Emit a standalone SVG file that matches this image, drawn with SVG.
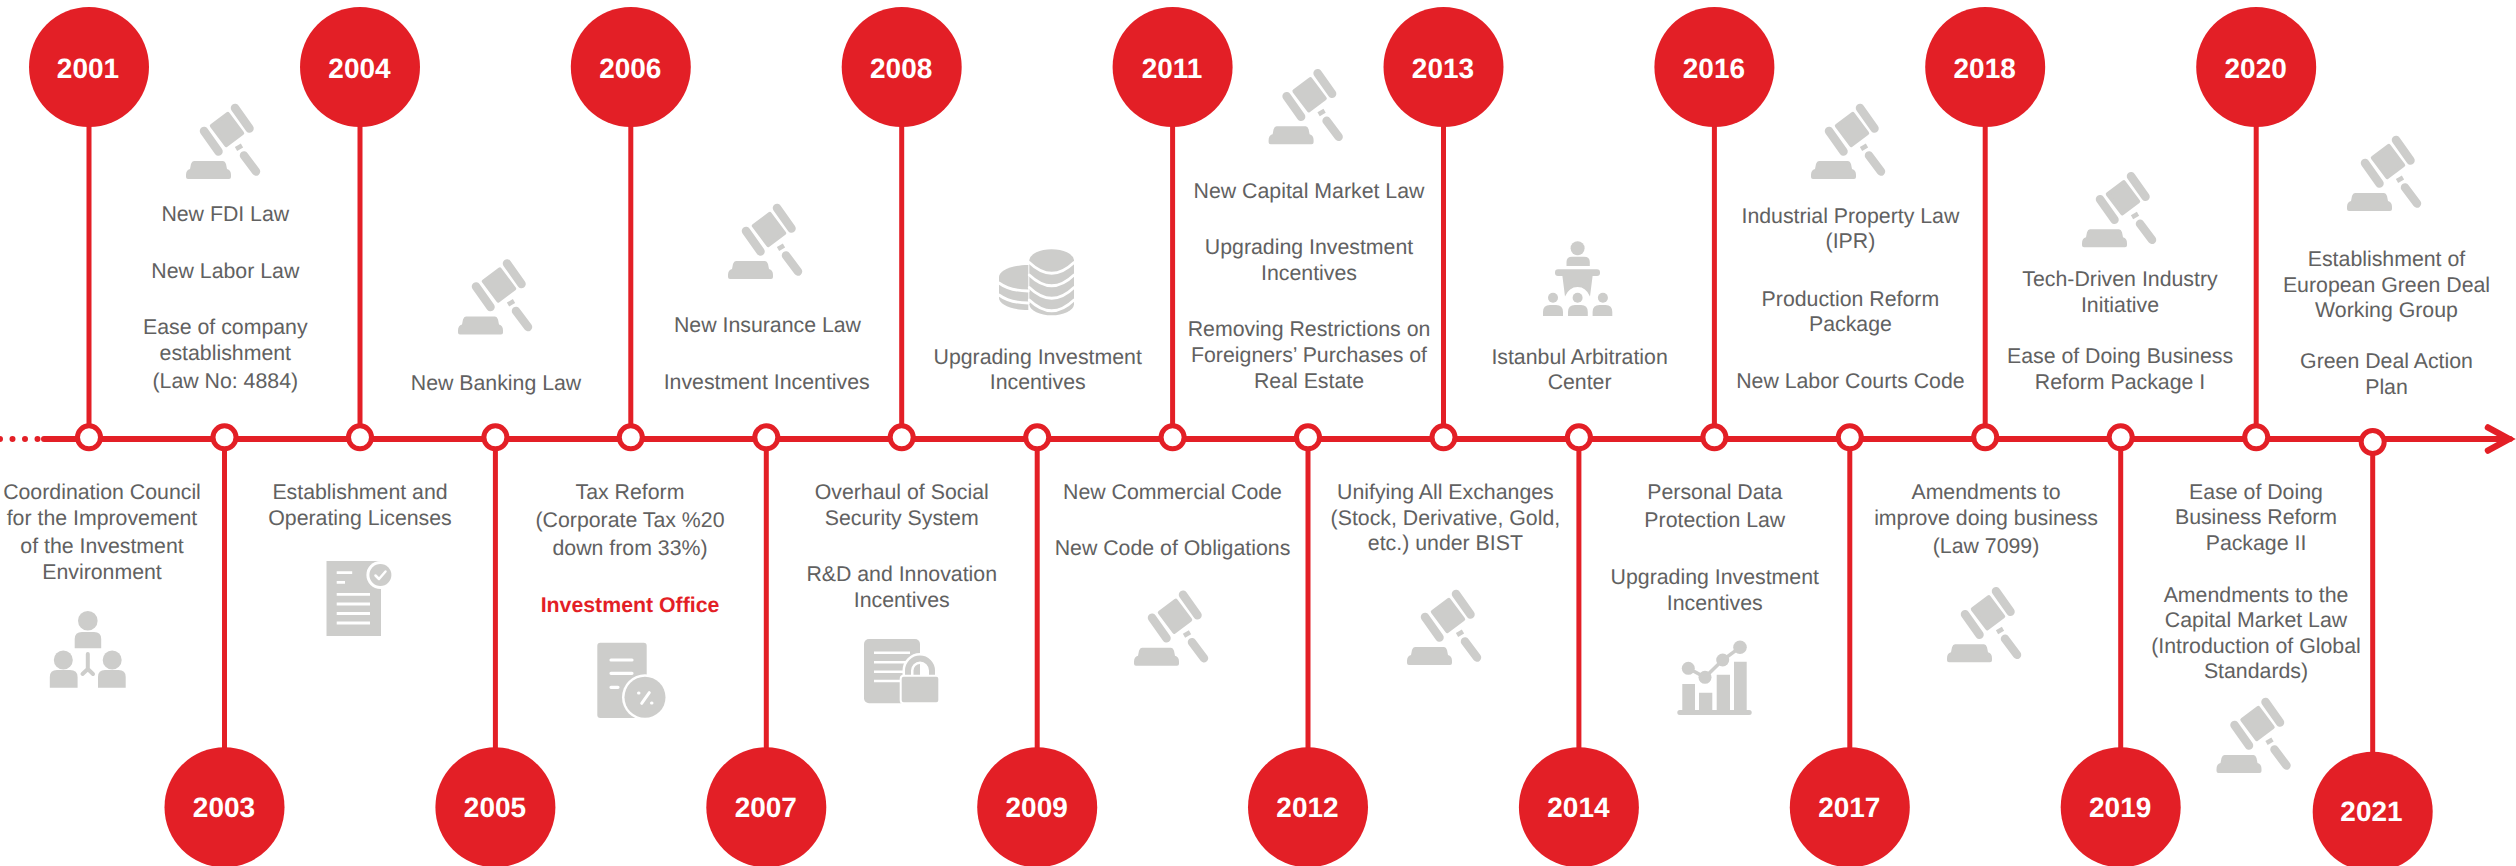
<svg xmlns="http://www.w3.org/2000/svg" width="2516" height="866" viewBox="0 0 2516 866">
<style>
text{text-rendering:geometricPrecision}
.line{stroke:#e31f26;fill:none}
.stem{stroke:#e31f26;stroke-width:5;fill:none}
.hub{fill:#fff;stroke:#e31f26;stroke-width:5}
.disc{fill:#e31f26}
.year{font:bold 28px "Liberation Sans",Arial,sans-serif;fill:#fff;text-anchor:middle}
.t{font:21.3px "Liberation Sans",Arial,sans-serif;fill:#616161;text-anchor:middle}
.b{font:bold 21.3px "Liberation Sans",Arial,sans-serif;fill:#e31f26;text-anchor:middle}
.g{fill:#cdcdcb}
.gl{stroke:#cdcdcb;fill:none;stroke-linecap:round}
.w{stroke:#fff;fill:none;stroke-linecap:round}
</style>
<defs>
<g id="gavel">
<path class="g" d="M8 57H37Q39 57 40 60L41 65Q45 66 45 71V73Q45 75 43 75H2Q0 75 0 73V71Q0 66 4 65L5 60Q6 57 8 57Z"/>
<path class="g" stroke="#cdcdcb" stroke-width="4" stroke-linejoin="round" d="M25.800 21.900 41.800 9.900 56.200 29.100 40.200 41.100Z"/>
<path class="gl" stroke-width="8.500" d="M49 4 63.500 24.500M18 27 32.500 47.500"/>
<path class="gl" stroke-width="4.500" style="stroke-linecap:butt" d="M50 45 56 41.500"/>
<path class="gl" stroke-width="8.500" d="M58 51.500 70 67.500"/>
</g>
</defs>
<rect width="2516" height="866" fill="#fff"/>
<g id="connectors">
<path class="stem" d="M89 67V437M224.500 437V807M360 67V437M495.400 437V807M630.800 67V437M766.300 437V807M901.700 67V437M1037.200 437V807M1172.600 67V437M1308 437V807M1443.500 67V437M1578.900 437V807M1714.400 67V437M1849.800 437V807M1985.200 67V437M2120.700 437V807M2256.200 67V437M2372.700 442V811"/>
<path class="line" stroke-width="6" stroke-linecap="round" stroke-dasharray="0 12.500" d="M0 439H38"/>
<path class="line" stroke-width="6" stroke-linecap="round" d="M44 439H2510"/>
<path class="line" stroke-width="6.500" stroke-linecap="round" stroke-linejoin="miter" d="M2488 427.500 2509 439 2488 450.500"/>
</g>
<g id="node-2001">
<circle class="disc" cx="89" cy="67" r="60"/><text class="year" x="88" y="78">2001</text>
<circle class="hub" cx="89" cy="437.300" r="11.500"/>
<text class="t"><tspan x="102" y="499">Coordination Council</tspan><tspan x="102" y="525">for the Improvement</tspan><tspan x="102" y="552.500">of the Investment</tspan><tspan x="102" y="579">Environment</tspan></text>
<g id="icon-council">
<circle class="g" cx="87.800" cy="620.700" r="9.800"/><path class="g" d="M74.700 648.300V639Q74.700 632 82 632H94Q101.200 632 101.200 639V648.300Z"/>
<circle class="g" cx="63.300" cy="660" r="9.500"/><path class="g" d="M49.800 687.700V677Q49.800 670 57 670H70Q77.600 670 77.600 677V687.700Z"/>
<circle class="g" cx="112.200" cy="660" r="9.500"/><path class="g" d="M98 687.700V677Q98 670 105 670H118.500Q125.700 670 125.700 677V687.700Z"/>
<path class="gl" stroke-width="4" d="M87.800 654V669M87.800 669 82.500 674M87.800 669 93 674"/>
</g>
</g>
<g id="node-2003">
<circle class="disc" cx="224.500" cy="807.300" r="60"/><text class="year" x="224" y="817">2003</text>
<circle class="hub" cx="224.500" cy="437.300" r="11.500"/>
<text class="t"><tspan x="225.300" y="220.500">New FDI Law</tspan><tspan x="225.300" y="277.500">New Labor Law</tspan><tspan x="225.300" y="334">Ease of company</tspan><tspan x="225.300" y="360">establishment</tspan><tspan x="225.300" y="388">(Law No: 4884)</tspan></text>
<use href="#gavel" x="186" y="104"/>
</g>
<g id="node-2004">
<circle class="disc" cx="360" cy="67" r="60"/><text class="year" x="359.500" y="78">2004</text>
<circle class="hub" cx="360" cy="437.300" r="11.500"/>
<text class="t"><tspan x="360" y="499">Establishment and</tspan><tspan x="360" y="525">Operating Licenses</tspan></text>
<g id="icon-licence">
<rect class="g" x="326.500" y="561" width="54.500" height="75"/>
<circle cx="380.400" cy="575" r="14" fill="#fff"/><circle class="g" cx="380.400" cy="575" r="11"/>
<path class="w" stroke-width="2.500" stroke-linejoin="round" d="M375.500 575.500 379 579 385.500 571.500"/>
<path class="w" stroke-width="2.800" style="stroke-linecap:butt" d="M336.700 572.700H352.200M336.700 582.300H345M336.700 594.300H370M336.700 604H370M336.700 613.500H370M336.700 623H370"/>
</g>
</g>
<g id="node-2005">
<circle class="disc" cx="495.400" cy="807.300" r="60"/><text class="year" x="495" y="817">2005</text>
<circle class="hub" cx="495.400" cy="437.300" r="11.500"/>
<text class="t" x="496" y="390">New Banking Law</text>
<use href="#gavel" x="458" y="259.500"/>
</g>
<g id="node-2006">
<circle class="disc" cx="630.800" cy="67" r="60"/><text class="year" x="630.300" y="78">2006</text>
<circle class="hub" cx="630.800" cy="437.300" r="11.500"/>
<text class="t"><tspan x="630" y="498.500">Tax Reform</tspan><tspan x="630" y="527">(Corporate Tax %20</tspan><tspan x="630" y="555">down from 33%)</tspan></text>
<text class="b" x="630" y="611.500">Investment Office</text>
<g id="icon-tax">
<rect class="g" x="597.300" y="642.700" width="49.400" height="75.300" rx="3"/>
<path class="w" stroke-width="3.200" d="M611 660H632M611 673.300H632M611 687.300H618"/>
<circle cx="645" cy="697.300" r="23" fill="#fff"/><circle class="g" cx="645" cy="697.300" r="20.500"/>
<path class="w" stroke-width="3" d="M641.700 703.300 649.300 692.700M638.500 693H639M651.500 703H652"/>
</g>
</g>
<g id="node-2007">
<circle class="disc" cx="766.300" cy="807.300" r="60"/><text class="year" x="765.800" y="817">2007</text>
<circle class="hub" cx="766.300" cy="437.300" r="11.500"/>
<text class="t"><tspan x="767.500" y="331.500">New Insurance Law</tspan><tspan x="766.700" y="389">Investment Incentives</tspan></text>
<use href="#gavel" x="728" y="204"/>
</g>
<g id="node-2008">
<circle class="disc" cx="901.700" cy="67" r="60"/><text class="year" x="901.200" y="78">2008</text>
<circle class="hub" cx="901.700" cy="437.300" r="11.500"/>
<text class="t"><tspan x="901.700" y="498.500">Overhaul of Social</tspan><tspan x="901.700" y="524.500">Security System</tspan><tspan x="901.700" y="580.500">R&amp;D and Innovation</tspan><tspan x="901.700" y="606.500">Incentives</tspan></text>
<g id="icon-lock">
<rect class="g" x="864" y="639" width="56" height="64.300" rx="5"/>
<path class="w" stroke-width="2.500" style="stroke-linecap:butt" d="M874 652.700H910M874 662.300H910M874 671.700H905M874 681H900"/>
<path d="M908 677V670.500A12 12 0 0 1 932 670.500V677" fill="none" stroke="#fff" stroke-width="11"/>
<path d="M908 677V670.500A12 12 0 0 1 932 670.500V677" fill="none" stroke="#cdcdcb" stroke-width="6"/>
<rect class="g" x="900.700" y="675.700" width="38.600" height="27.600" rx="3" stroke="#fff" stroke-width="2"/>
</g>
</g>
<g id="node-2009">
<circle class="disc" cx="1037.200" cy="807.300" r="60"/><text class="year" x="1036.700" y="817">2009</text>
<circle class="hub" cx="1037.200" cy="437.300" r="11.500"/>
<text class="t"><tspan x="1037.700" y="364">Upgrading Investment</tspan><tspan x="1037.700" y="389">Incentives</tspan></text>
<g id="icon-coins">
<path class="g" d="M1028.300 265C1011 265 999 271 999 277V298C999 304 1011 310 1028.300 310Z"/>
<path class="g" d="M1029.300 260A22.400 11.500 0 0 1 1074 260V304.500A22.400 11.500 0 0 1 1029.300 304.500Z"/>
<path class="w" stroke-width="2.800" d="M1029.300 262.500Q1051.700 284 1074 262.500M1029.300 275Q1051.700 296.500 1074 275M1029.300 287.500Q1051.700 309 1074 287.500M1029.300 300Q1051.700 321.500 1074 300M999 283Q1010 291 1028.300 291M999 295Q1010 303 1028.300 303"/>
</g>
</g>
<g id="node-2011">
<circle class="disc" cx="1172.600" cy="67" r="60"/><text class="year" x="1172" y="78">2011</text>
<circle class="hub" cx="1172.600" cy="437.300" r="11.500"/>
<text class="t"><tspan x="1172.500" y="498.500">New Commercial Code</tspan><tspan x="1172.500" y="555">New Code of Obligations</tspan></text>
<use href="#gavel" x="1134" y="590.700"/>
</g>
<g id="node-2012">
<circle class="disc" cx="1308" cy="807.300" r="60"/><text class="year" x="1307.500" y="817">2012</text>
<circle class="hub" cx="1308" cy="437.300" r="11.500"/>
<text class="t"><tspan x="1309" y="198.300">New Capital Market Law</tspan><tspan x="1309" y="254.300">Upgrading Investment</tspan><tspan x="1309" y="280">Incentives</tspan><tspan x="1309" y="336">Removing Restrictions on</tspan><tspan x="1309" y="362">Foreigners’ Purchases of</tspan><tspan x="1309" y="388">Real Estate</tspan></text>
<use href="#gavel" x="1268.600" y="69.300"/>
</g>
<g id="node-2013">
<circle class="disc" cx="1443.500" cy="67" r="60"/><text class="year" x="1443" y="78">2013</text>
<circle class="hub" cx="1443.500" cy="437.300" r="11.500"/>
<text class="t"><tspan x="1445.400" y="498.500">Unifying All Exchanges</tspan><tspan x="1445.400" y="525">(Stock, Derivative, Gold,</tspan><tspan x="1445.400" y="549.500">etc.) under BIST</tspan></text>
<use href="#gavel" x="1407" y="590"/>
</g>
<g id="node-2014">
<circle class="disc" cx="1578.900" cy="807.300" r="60"/><text class="year" x="1578.400" y="817">2014</text>
<circle class="hub" cx="1578.900" cy="437.300" r="11.500"/>
<text class="t"><tspan x="1579.600" y="364">Istanbul Arbitration</tspan><tspan x="1579.600" y="389">Center</tspan></text>
<g id="icon-arbitration">
<circle class="g" cx="1577.600" cy="248.300" r="7"/>
<path class="g" d="M1566.500 266V262Q1566.500 256.700 1572 256.700H1584Q1589.800 256.700 1589.800 262V266Z"/>
<rect class="g" x="1555" y="269.300" width="45" height="6.800" rx="3"/>
<path class="g" d="M1562.400 276H1592.600L1590 296.500Q1586 287 1577.600 287Q1569 287 1565 296.500Z"/>
<circle class="g" cx="1553" cy="297.700" r="5"/><circle class="g" cx="1577.600" cy="297.700" r="5"/><circle class="g" cx="1602.900" cy="297.700" r="5"/>
<path class="g" d="M1543 316V312Q1543 305 1550 305H1556Q1563 305 1563 312V316ZM1568 316V312Q1568 305 1575 305H1581Q1587.800 305 1587.800 312V316ZM1592.600 316V312Q1592.600 305 1599.600 305H1605.600Q1612.300 305 1612.300 312V316Z"/>
</g>
</g>
<g id="node-2016">
<circle class="disc" cx="1714.400" cy="67" r="60"/><text class="year" x="1713.900" y="78">2016</text>
<circle class="hub" cx="1714.400" cy="437.300" r="11.500"/>
<text class="t"><tspan x="1714.800" y="498.500">Personal Data</tspan><tspan x="1714.800" y="526.500">Protection Law</tspan><tspan x="1714.800" y="584">Upgrading Investment</tspan><tspan x="1714.800" y="609.500">Incentives</tspan></text>
<g id="icon-chart">
<path class="g" d="M1682.300 710V684H1695V710ZM1699 710V692.700H1712.300V710ZM1716.700 710V674.700H1730V710ZM1734 710V661.700H1746.700V710Z"/>
<rect class="g" x="1677.300" y="710" width="74.400" height="5" rx="2.500"/>
<path class="gl" stroke-width="3.500" d="M1688.300 668.300 1705 677.300 1722.700 660 1740 647.300"/>
<circle class="g" cx="1688.300" cy="668.300" r="6.500"/><circle class="g" cx="1705" cy="677.300" r="6.500"/><circle class="g" cx="1722.700" cy="660" r="6.500"/><circle class="g" cx="1740" cy="647.300" r="6.800"/>
</g>
</g>
<g id="node-2017">
<circle class="disc" cx="1849.800" cy="807.300" r="60"/><text class="year" x="1849.300" y="817">2017</text>
<circle class="hub" cx="1849.800" cy="437.300" r="11.500"/>
<text class="t"><tspan x="1850.400" y="223.300">Industrial Property Law</tspan><tspan x="1850.400" y="248.300">(IPR)</tspan><tspan x="1850.400" y="306">Production Reform</tspan><tspan x="1850.400" y="331">Package</tspan><tspan x="1850.400" y="388.300">New Labor Courts Code</tspan></text>
<use href="#gavel" x="1811" y="104"/>
</g>
<g id="node-2018">
<circle class="disc" cx="1985.200" cy="67" r="60"/><text class="year" x="1984.700" y="78">2018</text>
<circle class="hub" cx="1985.200" cy="437.300" r="11.500"/>
<text class="t"><tspan x="1986" y="498.500">Amendments to</tspan><tspan x="1986" y="524.500">improve doing business</tspan><tspan x="1986" y="552.500">(Law 7099)</tspan></text>
<use href="#gavel" x="1947" y="587.300"/>
</g>
<g id="node-2019">
<circle class="disc" cx="2120.700" cy="807.300" r="60"/><text class="year" x="2120.200" y="817">2019</text>
<circle class="hub" cx="2120.700" cy="437.300" r="11.500"/>
<text class="t"><tspan x="2120" y="285.700">Tech-Driven Industry</tspan><tspan x="2120" y="311.700">Initiative</tspan><tspan x="2120" y="362.700">Ease of Doing Business</tspan><tspan x="2120" y="388.700">Reform Package I</tspan></text>
<use href="#gavel" x="2082" y="172.300"/>
</g>
<g id="node-2020">
<circle class="disc" cx="2256.200" cy="67" r="60"/><text class="year" x="2255.700" y="78">2020</text>
<circle class="hub" cx="2256.200" cy="437.300" r="11.500"/>
<text class="t"><tspan x="2256" y="499">Ease of Doing</tspan><tspan x="2256" y="524.300">Business Reform</tspan><tspan x="2256" y="549.700">Package II</tspan><tspan x="2256" y="601.700">Amendments to the</tspan><tspan x="2256" y="626.700">Capital Market Law</tspan><tspan x="2256" y="652.700">(Introduction of Global</tspan><tspan x="2256" y="677.700">Standards)</tspan></text>
<use href="#gavel" x="2216.500" y="698"/>
</g>
<g id="node-2021">
<circle class="disc" cx="2372.700" cy="811.700" r="60"/><text class="year" x="2371.500" y="821">2021</text>
<circle class="hub" cx="2372.700" cy="442" r="11.500"/>
<text class="t"><tspan x="2386.500" y="265.700">Establishment of</tspan><tspan x="2386.500" y="291.700">European Green Deal</tspan><tspan x="2386.500" y="317">Working Group</tspan><tspan x="2386.500" y="367.700">Green Deal Action</tspan><tspan x="2386.500" y="393.700">Plan</tspan></text>
<use href="#gavel" x="2347" y="136"/>
</g>
</svg>
